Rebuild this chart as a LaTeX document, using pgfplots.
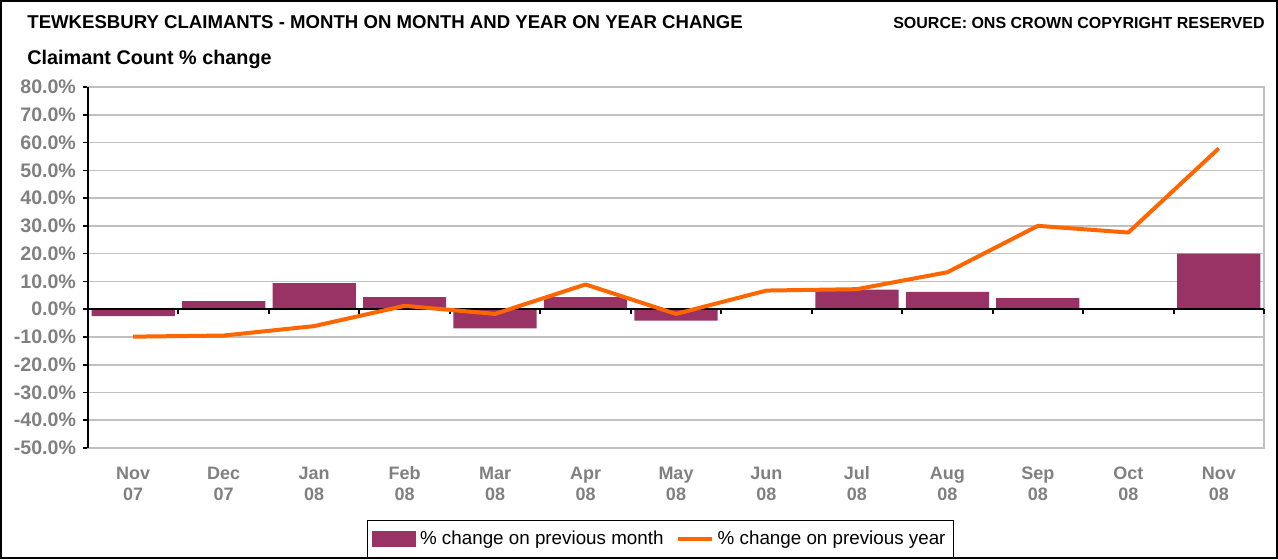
\documentclass[border=0pt]{standalone}
\usepackage{pgfplots}
\pgfplotsset{compat=1.18}
\usepackage{fontspec}
\setmainfont{Liberation Sans}
\definecolor{barpurple}{HTML}{993366}
\definecolor{lineorange}{HTML}{FF6600}
\definecolor{gridgray}{HTML}{C0C0C0}
\definecolor{labgray}{HTML}{808080}
\begin{document}
\begin{tikzpicture}
\useasboundingbox (0,0) rectangle (639pt,279.5pt);
\draw[black, line width=1pt] (0.5pt,0.5pt) rectangle (638.5pt,279pt);
\node[anchor=base west, inner sep=0, font=\bfseries\fontsize{9.3}{11}\selectfont] at (13.5pt,265.25pt) {TEWKESBURY CLAIMANTS - MONTH ON MONTH AND YEAR ON YEAR CHANGE};
\node[anchor=base east, inner sep=0, font=\bfseries\fontsize{8}{10}\selectfont] at (632.5pt,265.25pt) {SOURCE: ONS CROWN COPYRIGHT RESERVED};
\node[anchor=base west, inner sep=0, font=\bfseries\fontsize{9.9}{11}\selectfont] at (13.5pt,247.5pt) {Claimant Count \% change};

\begin{axis}[
  at={(44pt,55.5pt)}, anchor=south west,
  width=588pt, height=180.5pt, scale only axis,
  xmin=-0.5, xmax=12.5, ymin=-50, ymax=80,
  ytick={-50,-40,...,80},
  yticklabels={-50.0\%,-40.0\%,-30.0\%,-20.0\%,-10.0\%,0.0\%,10.0\%,20.0\%,30.0\%,40.0\%,50.0\%,60.0\%,70.0\%,80.0\%},
  xtick={0,...,12},
  xticklabels={{\strut Nov\\\strut 07},{\strut Dec\\\strut 07},{\strut Jan\\\strut 08},{\strut Feb\\\strut 08},{\strut Mar\\\strut 08},{\strut Apr\\\strut 08},{\strut May\\\strut 08},{\strut Jun\\\strut 08},{\strut Jul\\\strut 08},{\strut Aug\\\strut 08},{\strut Sep\\\strut 08},{\strut Oct\\\strut 08},{\strut Nov\\\strut 08}},
  x tick label style={align=center, font=\bfseries\fontsize{9}{10.5}\selectfont, text=labgray, yshift=-2.5pt},
  y tick label style={font=\bfseries\fontsize{9.8}{11}\selectfont, text=labgray},
  ymajorgrids, grid style={gridgray, line width=0.8pt},
  axis line style={gridgray, line width=0.8pt},
  ytick pos=left, xtick pos=bottom,
  x tick style={draw=none},
  y tick style={black, line width=0.8pt},
  tick align=outside, major tick length=2.5pt,
]
\addplot[ybar, bar width=0.92, fill=barpurple, draw=none] coordinates {
(0,-2.5) (1,2.9) (2,9.4) (3,4.3) (4,-6.9) (5,4.3) (6,-4.1) (7,0.3) (8,7.0) (9,6.2) (10,4.0) (11,0) (12,20.0)
};
\end{axis}

\begin{axis}[
  at={(44pt,55.5pt)}, anchor=south west,
  width=588pt, height=180.5pt, scale only axis,
  xmin=-0.5, xmax=12.5, ymin=-50, ymax=80,
  axis x line=middle, axis y line=left,
  axis line style={black, line width=1.2pt, -},
  xtick={0.5,1.5,...,12.5}, xticklabels={},
  ytick=\empty,
  tick align=outside, major tick length=2.5pt,
  x tick style={black, line width=1pt},
  legend columns=2,
  legend style={at={(0.487,-0.252)}, anchor=center, draw=black, line width=0.6pt,
    font=\fontsize{9.4}{11}\selectfont, inner xsep=2pt, inner ysep=3pt,
    /tikz/every even column/.append style={column sep=4pt}},
]
\addlegendimage{legend image code/.code={\fill[barpurple] (0pt,-3.6pt) rectangle (21.5pt,3.6pt);}}
\addlegendentry{\% change on previous month}
\addplot[lineorange, line width=2pt, line join=round, mark=none] coordinates {
(0,-9.9) (1,-9.5) (2,-6.1) (3,1.2) (4,-1.7) (5,8.9) (6,-1.7) (7,6.7) (8,7.2) (9,13.3) (10,30.0) (11,27.6) (12,57.9)
};
\addlegendentry{\% change on previous year}
\end{axis}
\end{tikzpicture}
\end{document}
